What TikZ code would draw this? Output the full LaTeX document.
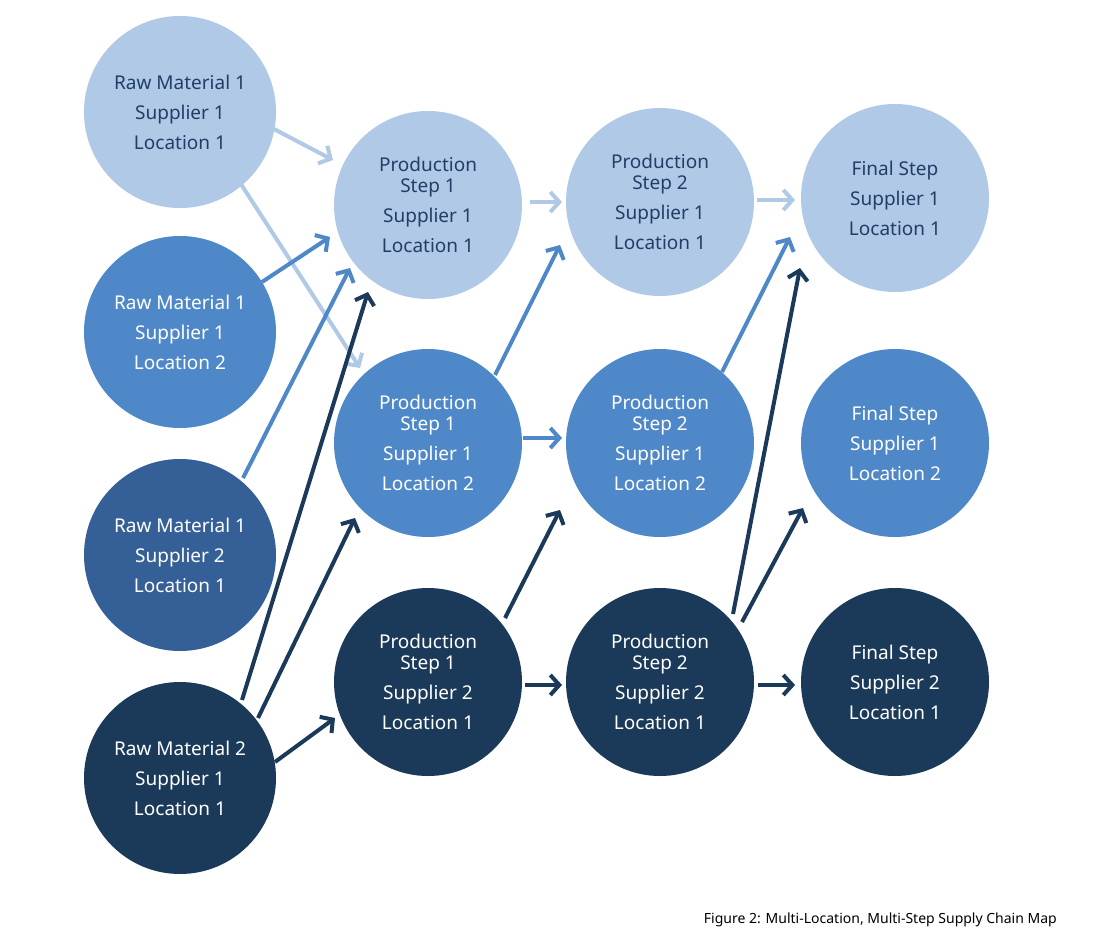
\documentclass[tikz,border=0pt]{standalone}
\usepackage{fontspec}
\setmainfont{Noto Sans}
\usetikzlibrary{arrows.meta}
\definecolor{cL}{HTML}{B0C9E6}
\definecolor{cM}{HTML}{4F88C8}
\definecolor{cD}{HTML}{355F97}
\definecolor{cX}{HTML}{1B3A5A}
\definecolor{tL}{HTML}{1F3F66}
\begin{document}
\begin{tikzpicture}[x=1pt,y=-1pt,
  blob/.style={circle,minimum size=188pt,inner sep=0pt,align=center,
    font=\fontsize{19}{30}\selectfont\bfseries},
  L/.style={blob,fill=cL,text=tL},
  M/.style={blob,fill=cM,text=white},
  D/.style={blob,fill=cD,text=white},
  X/.style={blob,fill=cX,text=white},
  ar/.style={line width=4pt,-{Straight Barb[length=9pt,width=20pt,line width=4pt]}},
  aL/.style={ar,draw=cL},aM/.style={ar,draw=cM},aX/.style={ar,draw=cX}]
\useasboundingbox (0,0) rectangle (1110,947);
\fill[white] (0,0) rectangle (1110,947);
\node[L,minimum size=192pt] (r1) at (180,112) {Raw Material 1\\Supplier 1\\Location 1};
\node[M,minimum size=192pt] (r2) at (180,332) {Raw Material 1\\Supplier 1\\Location 2};
\node[D,minimum size=192pt] (r3) at (180,555) {Raw Material 1\\Supplier 2\\Location 1};
\node[X,minimum size=192pt] (r4) at (180,778) {Raw Material 2\\Supplier 1\\Location 1};
\node[L] (p1) at (428,205) {Production\\[-9pt]Step 1\\Supplier 1\\Location 1};
\node[M] (p2) at (428,443) {Production\\[-9pt]Step 1\\Supplier 1\\Location 2};
\node[X] (p3) at (428,682) {Production\\[-9pt]Step 1\\Supplier 2\\Location 1};
\node[L] (q1) at (660,202) {Production\\[-9pt]Step 2\\Supplier 1\\Location 1};
\node[M] (q2) at (660,443) {Production\\[-9pt]Step 2\\Supplier 1\\Location 2};
\node[X] (q3) at (660,682) {Production\\[-9pt]Step 2\\Supplier 2\\Location 1};
\node[L] (f1) at (895,198) {Final Step\\Supplier 1\\Location 1};
\node[M] (f2) at (895,443) {Final Step\\Supplier 1\\Location 2};
\node[X] (f3) at (895,682) {Final Step\\Supplier 2\\Location 1};
% arrow endpoints
\foreach \n/\x/\y in {a1s/272/128,a1e/333/160, a2s/237/178,a2e/360/368,
  a3s/262/282,a3e/330/237, a4s/243/478,a4e/350/268, a5s/242/700,a5e/368/292,
  a6s/258/718,a6e/355/518, a7s/275/762,a7e/335/718, a8s/530/202,a8e/562/202,
  a9s/495/375,a9e/560/245, a10s/523/438,a10e/562/438, a11s/505/618,a11e/560/510,
  a12s/525/685,a12e/562/685, a13s/757/200,a13e/795/200, a14s/722/372,a14e/790/237,
  a15s/733/614,a15e/800/268, a16s/742/622,a16e/803/508, a17s/758/685,a17e/795/685}
  {\coordinate (\n) at (\x,\y);}
\draw[aL] (a1s) -- (a1e);
\draw[aL] (a2s) -- (a2e);
\draw[aM] (a3s) -- (a3e);
\draw[aM] (a4s) -- (a4e);
\draw[aX] (a5s) -- (a5e);
\draw[aX] (a6s) -- (a6e);
\draw[aX] (a7s) -- (a7e);
\draw[aL] (a8s) -- (a8e);
\draw[aM] (a9s) -- (a9e);
\draw[aM] (a10s) -- (a10e);
\draw[aX] (a11s) -- (a11e);
\draw[aX] (a12s) -- (a12e);
\draw[aL] (a13s) -- (a13e);
\draw[aM] (a14s) -- (a14e);
\draw[aX] (a15s) -- (a15e);
\draw[aX] (a16s) -- (a16e);
\draw[aX] (a17s) -- (a17e);
\node[anchor=east,font=\fontsize{14}{16}\selectfont\bfseries,inner sep=0pt] (cap) at (1057,920) {Figure 2: Multi-Location, Multi-Step Supply Chain Map};
\end{tikzpicture}
\end{document}
